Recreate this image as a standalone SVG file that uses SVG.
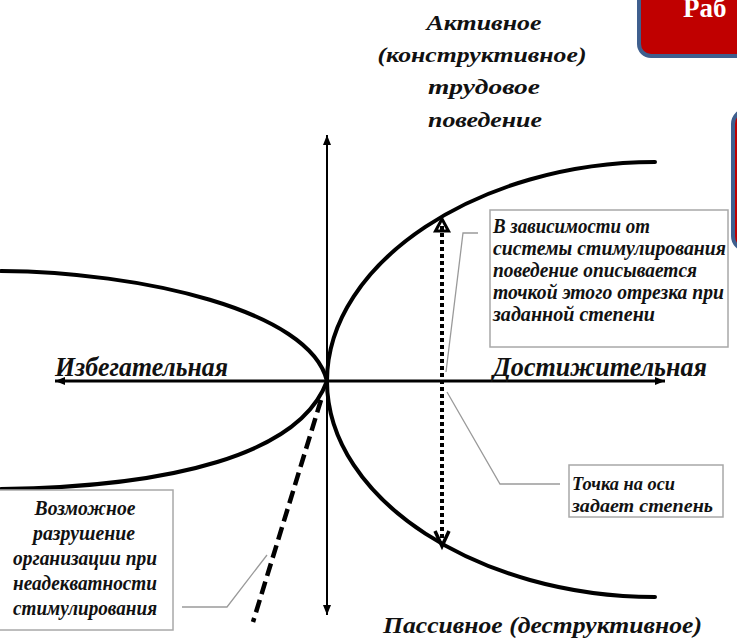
<svg xmlns="http://www.w3.org/2000/svg" width="737" height="639" viewBox="0 0 737 639">
  <defs>
    <marker id="tip" viewBox="0 0 10 8" refX="10" refY="4" markerWidth="10" markerHeight="8" markerUnits="userSpaceOnUse" orient="auto-start-reverse">
      <path d="M0,0 L10,4 L0,8 Z" fill="#000"/>
    </marker>
  </defs>
  <style>
    .t{font-family:"Liberation Serif","Times New Roman",serif;font-weight:bold;font-style:italic;fill:#111}
    .curve{fill:none;stroke:#000;stroke-width:4;stroke-linecap:round}
    .axis{fill:none;stroke:#000}
    .lead{fill:none;stroke:#9a9a9a;stroke-width:1.3}
    .box{fill:#fff;stroke:#a8a8a8;stroke-width:1.5}
    .slide{fill:#c00000;stroke:#3f5f8e;stroke-width:4}
  </style>

  <rect width="737" height="639" fill="#fff"/>

  <!-- slide panels at the right edge -->
  <g id="title-panel">
    <rect class="slide" x="639" y="-14" width="120" height="70" rx="12"/>
    <text x="683" y="17" font-family="'Liberation Serif','Times New Roman',serif" font-weight="bold" font-size="27" fill="#fff">Раб</text>
  </g>
  <g id="side-panel">
    <rect class="slide" x="733" y="110" width="40" height="140" rx="14"/>
  </g>

  <!-- axes, curves, leaders -->
  <g id="connectors">
    <line class="axis" x1="55" y1="381" x2="665" y2="381" stroke-width="3" marker-start="url(#tip)" marker-end="url(#tip)"/>
    <line class="axis" x1="327" y1="615" x2="327" y2="135" stroke-width="2" marker-start="url(#tip)" marker-end="url(#tip)"/>

    <path class="curve" d="M327,381 C327,262 480,162 655,162"/>
    <path class="curve" d="M327,381 C327,500 480,597 655,597"/>
    <path class="curve" d="M1,271 C140,272 310,310 327,381"/>
    <path class="curve" d="M1,489 C170,487 300,455 327,381"/>

    <!-- range of behaviour at a given degree -->
    <line x1="442" y1="226" x2="442" y2="540" stroke="#000" stroke-width="4" stroke-dasharray="4 3"/>
    <path d="M435.5,231 L442,219 L448.5,231 Z" fill="none" stroke="#000" stroke-width="3" stroke-linejoin="miter"/>
    <path d="M435,531 L442,546 L449,531" fill="none" stroke="#000" stroke-width="3.5"/>

    <!-- breakdown line -->
    <line x1="321" y1="400" x2="253" y2="622" stroke="#000" stroke-width="4.5" stroke-dasharray="13 6"/>

    <!-- callout leaders -->
    <polyline class="lead" points="478,233 463,233 446,372"/>
    <polyline class="lead" points="560,484 500,484 447,392"/>
    <polyline class="lead" points="182,607 227,607 267,555"/>
  </g>

  <g id="label-active">
    <text class="t" font-size="22" text-anchor="middle" x="484" y="30" textLength="115" lengthAdjust="spacingAndGlyphs">Активное</text>
    <text class="t" font-size="22" text-anchor="middle" x="482" y="62" textLength="209" lengthAdjust="spacingAndGlyphs">(конструктивное)</text>
    <text class="t" font-size="22" text-anchor="middle" x="484" y="94" textLength="112" lengthAdjust="spacingAndGlyphs">трудовое</text>
    <text class="t" font-size="22" text-anchor="middle" x="485" y="127" textLength="114" lengthAdjust="spacingAndGlyphs">поведение</text>
  </g>

  <g id="label-avoidance">
    <text class="t" font-size="28" x="55" y="376" textLength="173" lengthAdjust="spacingAndGlyphs">Избегательная</text>
  </g>

  <g id="label-achievement">
    <text class="t" font-size="28" x="493" y="376" textLength="214" lengthAdjust="spacingAndGlyphs">Достижительная</text>
  </g>

  <g id="label-passive">
    <text class="t" font-size="24" x="383" y="633" textLength="319" lengthAdjust="spacingAndGlyphs">Пассивное (деструктивное)</text>
  </g>

  <g id="note-range">
    <rect class="box" x="490" y="210" width="238" height="137"/>
    <text class="t" font-size="20" x="493" y="233" textLength="157" lengthAdjust="spacingAndGlyphs">В зависимости от</text>
    <text class="t" font-size="20" x="493" y="255" textLength="233" lengthAdjust="spacingAndGlyphs">системы стимулирования</text>
    <text class="t" font-size="20" x="493" y="277" textLength="204" lengthAdjust="spacingAndGlyphs">поведение описывается</text>
    <text class="t" font-size="20" x="493" y="299" textLength="231" lengthAdjust="spacingAndGlyphs">точкой этого отрезка при</text>
    <text class="t" font-size="20" x="493" y="321" textLength="162" lengthAdjust="spacingAndGlyphs">заданной степени</text>
  </g>

  <g id="note-degree">
    <rect class="box" x="569" y="465" width="154" height="52"/>
    <text class="t" font-size="18" x="572" y="490" textLength="103" lengthAdjust="spacingAndGlyphs">Точка на оси</text>
    <text class="t" font-size="18" x="572" y="512" textLength="141" lengthAdjust="spacingAndGlyphs">задает степень</text>
  </g>

  <g id="note-breakdown">
    <rect class="box" x="-2" y="490" width="175" height="140"/>
    <text class="t" font-size="20" text-anchor="middle" x="85" y="515" textLength="101" lengthAdjust="spacingAndGlyphs">Возможное</text>
    <text class="t" font-size="20" text-anchor="middle" x="84" y="540" textLength="102" lengthAdjust="spacingAndGlyphs">разрушение</text>
    <text class="t" font-size="20" text-anchor="middle" x="85" y="565" textLength="144" lengthAdjust="spacingAndGlyphs">организации при</text>
    <text class="t" font-size="20" text-anchor="middle" x="85" y="590" textLength="144" lengthAdjust="spacingAndGlyphs">неадекватности</text>
    <text class="t" font-size="20" text-anchor="middle" x="85" y="615" textLength="144" lengthAdjust="spacingAndGlyphs">стимулирования</text>
  </g>
</svg>
